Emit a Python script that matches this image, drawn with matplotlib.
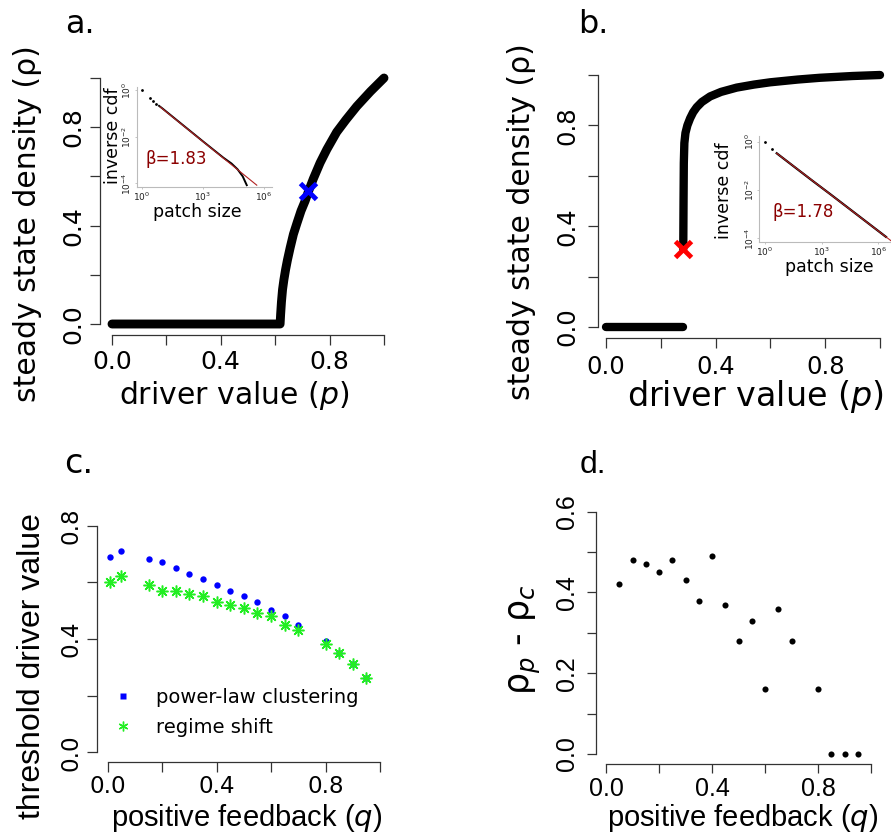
import matplotlib
matplotlib.use('Agg')
import matplotlib.pyplot as plt
import numpy as np
from matplotlib.lines import Line2D

W, H, DPI = 891, 839, 100
plt.rcParams['mathtext.fontset'] = 'dejavusans'

# ---------------- data ----------------
# panel a: steady state density vs driver value
a_p = [0.0, 0.618, 0.620, 0.623, 0.627, 0.632, 0.638, 0.645, 0.655, 0.667, 0.680, 0.695, 0.710, 0.722,
       0.740, 0.765, 0.790, 0.826, 0.860, 0.900, 0.950, 1.0]
a_rho = [0.0, 0.0, 0.04, 0.09, 0.14, 0.18, 0.22, 0.26, 0.31, 0.365, 0.41, 0.46, 0.50, 0.538,
         0.59, 0.655, 0.71, 0.78, 0.83, 0.885, 0.945, 1.0]
a_mark = (0.722, 0.54)

# panel b
b_low_p = [0.0, 0.28]
b_low_rho = [0.0, 0.0]
b_high_p = [0.282, 0.283, 0.284, 0.286, 0.290, 0.297, 0.307, 0.318, 0.331, 0.350, 0.380, 0.420,
            0.477, 0.540, 0.599, 0.700, 0.781, 0.900, 1.0]
b_high_rho = [0.31, 0.50, 0.65, 0.73, 0.77, 0.80, 0.828, 0.852, 0.872, 0.893, 0.915, 0.933,
              0.950, 0.962, 0.971, 0.982, 0.989, 0.996, 1.0]
b_mark = (0.282, 0.31)

# insets (log10 patch size, log10 inverse cdf)
ia_dots_x = [0.0, 0.41, 0.55, 0.70]
ia_dots_y = [0.0, -0.36, -0.48, -0.60]
ia_line_x = [0.85, 1.0, 2.0, 3.0, 4.0, 4.4, 4.7, 4.95, 5.15]
ia_line_y = [-0.68, -0.78, -1.49, -2.20, -2.90, -3.15, -3.40, -3.70, -4.08]
ia_fit_x = [0.9, 5.64]
ia_fit_y = [-0.72, -4.08]
ia_beta = 'β=1.83'

ib_dots_x = [0.0, 0.39]
ib_dots_y = [0.0, -0.31]
ib_line_x = [0.62, 1.5, 2.5, 3.5, 4.5, 5.5, 6.4]
ib_line_y = [-0.48, -1.01, -1.61, -2.20, -2.80, -3.40, -3.94]
ib_fit_x = [0.62, 6.9]
ib_fit_y = [-0.48, -4.24]
ib_beta = 'β=1.78'

# panel c
c_q = [0.01, 0.05, 0.15, 0.20, 0.25, 0.30, 0.35, 0.40, 0.45, 0.50, 0.55, 0.60, 0.65, 0.70, 0.80, 0.85, 0.90, 0.95]
c_power = [0.69, 0.711, 0.681, 0.671, 0.651, 0.631, 0.611, 0.591, 0.571, 0.551, 0.531, 0.501, 0.48, 0.451, 0.392, 0.351, 0.311, 0.261]
c_regime = [0.60, 0.621, 0.591, 0.571, 0.571, 0.56, 0.551, 0.531, 0.52, 0.511, 0.491, 0.48, 0.451, 0.431, 0.381, 0.351, 0.311, 0.261]

# panel d
d_q = [0.05, 0.10, 0.15, 0.20, 0.25, 0.30, 0.35, 0.40, 0.45, 0.50, 0.55, 0.60, 0.65, 0.70, 0.80, 0.85, 0.90, 0.95]
d_val = [0.42, 0.48, 0.47, 0.45, 0.48, 0.43, 0.38, 0.49, 0.37, 0.28, 0.33, 0.16, 0.36, 0.28, 0.16, 0.0, 0.0, 0.0]

# ---------------- helpers ----------------
fig = plt.figure(figsize=(W / DPI, H / DPI), dpi=DPI)
AXC = '#333333'


def px_axes(spine_x, spine_y, right, top, xmap, ymap, log=False):
    ax = fig.add_axes([spine_x / W, 1 - spine_y / H, (right - spine_x) / W, (spine_y - top) / H])
    da, pa, db, pb = xmap
    s = (db - da) / (pb - pa)
    x0, x1 = da + (spine_x - pa) * s, da + (right - pa) * s
    da, pa, db, pb = ymap
    s = (db - da) / (pb - pa)
    y0, y1 = da + (spine_y - pa) * s, da + (top - pa) * s
    if log:
        ax.set_xscale('log')
        ax.set_yscale('log')
        ax.set_xlim(10 ** x0, 10 ** x1)
        ax.set_ylim(10 ** y0, 10 ** y1)
    else:
        ax.set_xlim(x0, x1)
        ax.set_ylim(y0, y1)
    ax.patch.set_alpha(0)
    return ax


def r_style(ax, xticks, xshow, yticks, yshow, fs, family, xpad, ypad, ticklen=7.2, fmt='{:.1f}'):
    for s in ['top', 'right']:
        ax.spines[s].set_visible(False)
    for s in ['left', 'bottom']:
        ax.spines[s].set_color(AXC)
        ax.spines[s].set_linewidth(0.9)
    ax.spines['left'].set_bounds(yticks[0], yticks[-1])
    ax.spines['bottom'].set_bounds(xticks[0], xticks[-1])
    ax.set_xticks(xticks)
    ax.set_xticklabels([fmt.format(t) if t in xshow else '' for t in xticks])
    ax.set_yticks(yticks)
    ax.set_yticklabels([fmt.format(t) if t in yshow else '' for t in yticks])
    ax.tick_params(axis='both', direction='out', length=ticklen, width=0.9, color=AXC, labelsize=fs)
    ax.tick_params(axis='x', pad=xpad)
    ax.tick_params(axis='y', pad=ypad)
    for lab in ax.get_xticklabels() + ax.get_yticklabels():
        lab.set_family(family)
    for lab in ax.get_yticklabels():
        lab.set_rotation(90)
        lab.set_va('center')


def ftext(x, y, s, **kw):
    return fig.text(x / W, 1 - y / H, s, **kw)


ticks01 = [0.0, 0.2, 0.4, 0.6, 0.8, 1.0]
show_048 = [0.0, 0.4, 0.8]

# ---------------- panel a ----------------
axa = px_axes(100, 335, 400, 60, (0, 112, 1, 384), (0, 324, 1, 78))
axa.plot(a_p, a_rho, color='black', lw=6.4, solid_capstyle='round', solid_joinstyle='round', clip_on=False)
axa.plot([a_mark[0]], [a_mark[1]], marker='x', color='#0000FF', ms=11, mew=3.5, clip_on=False, zorder=5)
r_style(axa, ticks01, show_048, ticks01, show_048, 18, 'DejaVu Sans', 3.6, 3.6)
ftext(65, 33, 'a.', fontsize=23, ha='left', va='baseline')
ftext(28, 224, 'steady state density (ρ)', fontsize=21.5, rotation=90, ha='center', va='center')
ftext(234, 395, 'driver value ($p$)', fontsize=21.5, ha='center', va='center')

# ---------------- panel b ----------------
axb = px_axes(597.7, 337.7, 890, 60, (0, 606, 1, 880), (0, 327, 1, 75))
axb.plot(b_low_p, b_low_rho, color='black', lw=6.0, solid_capstyle='round', clip_on=False)
axb.plot(b_high_p, b_high_rho, color='black', lw=6.0, solid_capstyle='round', solid_joinstyle='round', clip_on=False)
axb.plot([b_mark[0]], [b_mark[1]], marker='x', color='#FF0000', ms=11, mew=3.5, clip_on=False, zorder=5)
r_style(axb, ticks01, show_048, ticks01, show_048, 17.5, 'DejaVu Sans', 5.3, 5.8)
ftext(577.7, 33, 'b.', fontsize=23, ha='left', va='baseline')
ftext(521.7, 222, 'steady state density (ρ)', fontsize=21.5, rotation=90, ha='center', va='center')
ftext(755, 397, 'driver value ($p$)', fontsize=24, ha='center', va='center')


# ---------------- insets ----------------
def inset_style(ax):
    for s in ['top', 'right']:
        ax.spines[s].set_visible(False)
    for s in ['left', 'bottom']:
        ax.spines[s].set_color('#BBBBBB')
        ax.spines[s].set_linewidth(0.8)
    ax.set_xticks([1, 1e3, 1e6])
    ax.set_xticklabels(['$10^{0}$', '$10^{3}$', '$10^{6}$'])
    ax.set_yticks([1, 1e-2, 1e-4])
    ax.set_yticklabels(['$10^{0}$', '$10^{-2}$', '$10^{-4}$'])
    ax.minorticks_off()
    ax.tick_params(axis='both', length=1.5, width=0.6, color='#BBBBBB', labelsize=6.5, pad=1.2, labelcolor='#222222')
    for lab in ax.get_yticklabels():
        lab.set_rotation(90)
        lab.set_va('center')


ia = px_axes(136.7, 187.3, 272, 87, (0, 141.7, 3, 202.9), (0, 90, -4, 183.3), log=True)
inset_style(ia)
ia.plot(10 ** np.array(ia_dots_x), 10 ** np.array(ia_dots_y), 'o', color='black', ms=1.0)
ia.plot(10 ** np.array(ia_line_x), 10 ** np.array(ia_line_y), color='black', lw=1.4)
ia.plot(10 ** np.array(ia_fit_x), 10 ** np.array(ia_fit_y), color='#B22222', lw=0.8)
ftext(176.7, 158.5, ia_beta, fontsize=12, color='#8B0000', ha='center', va='center')
ftext(112.5, 136, 'inverse cdf', fontsize=12.5, rotation=90, ha='center', va='center')
ftext(197, 212, 'patch size', fontsize=12.5, ha='center', va='center')

ib = px_axes(759.3, 241.7, 895, 136, (0, 765, 3, 821.7), (0, 141.7, -4, 238.3), log=True)
inset_style(ib)
ib.plot(10 ** np.array(ib_dots_x), 10 ** np.array(ib_dots_y), 'o', color='black', ms=1.0)
ib.plot(10 ** np.array(ib_line_x), 10 ** np.array(ib_line_y), color='black', lw=1.6)
ib.plot(10 ** np.array(ib_fit_x), 10 ** np.array(ib_fit_y), color='#B22222', lw=0.8)
ftext(803, 211.7, ib_beta, fontsize=12, color='#8B0000', ha='center', va='center')
ftext(724, 191, 'inverse cdf', fontsize=12.5, rotation=90, ha='center', va='center')
ftext(829.5, 267.5, 'patch size', fontsize=12.5, ha='center', va='center')

# ---------------- panel c ----------------
axc = px_axes(96.7, 761.7, 395, 505, (0, 107.7, 1, 380), (0, 752.3, 0.8, 525.7))
axc.plot(c_q, c_power, 'o', color='#0000FF', ms=4.6, mec='none', clip_on=False)
axc.plot(c_q, c_regime, marker=(8, 2, 0), ls='none', color='#22EE22', ms=8.5, mew=1.1, clip_on=False)
r_style(axc, ticks01, show_048, [0.0, 0.2, 0.4, 0.6, 0.8], show_048, 16.6, 'DejaVu Sans', 2.7, 2.7)
handles = [Line2D([], [], marker='s', ls='none', color='#0000FF', ms=4.2, mec='none'),
           Line2D([], [], marker=(6, 2, 0), ls='none', color='#22EE22', ms=7, mew=1.0)]
axc.legend(handles, ['power-law clustering', 'regime shift'], loc='upper left',
           bbox_to_anchor=((113 - 96.7) / (395 - 96.7), (761.7 - 688) / (761.7 - 505)),
           frameon=False, fontsize=14, handlelength=1.0, handletextpad=1.2, labelspacing=0.55,
           borderaxespad=0, borderpad=0)
ftext(64, 473.3, 'c.', fontsize=24, ha='left', va='baseline')
ftext(32, 666, 'threshold driver value', fontsize=23, rotation=90, ha='center', va='center',
      family='Liberation Sans')
ftext(247, 818, 'positive feedback ($q$)', fontsize=21, ha='center', va='center',
      family='Liberation Sans')

# ---------------- panel d ----------------
axd = px_axes(595.7, 764, 885, 500, (0, 606, 1, 871), (0, 754, 0.6, 511.7))
axd.plot(d_q, d_val, 'o', color='black', ms=4.4, mec='none', clip_on=False)
r_style(axd, ticks01, show_048, [0.0, 0.1, 0.2, 0.3, 0.4, 0.5, 0.6], [0.0, 0.2, 0.4, 0.6],
        18, 'Liberation Sans', 2.7, 5.6, ticklen=6.5)
ftext(579.3, 473.3, 'd.', fontsize=23, ha='left', va='baseline', family='Liberation Sans')
ftext(525, 640, 'ρ$_{p}$ - ρ$_{c}$', fontsize=25, rotation=90, ha='center', va='center')
ftext(742.5, 818, 'positive feedback ($q$)', fontsize=21, ha='center', va='center',
      family='Liberation Sans')

fig.savefig('out.png', dpi=DPI, facecolor='white')
